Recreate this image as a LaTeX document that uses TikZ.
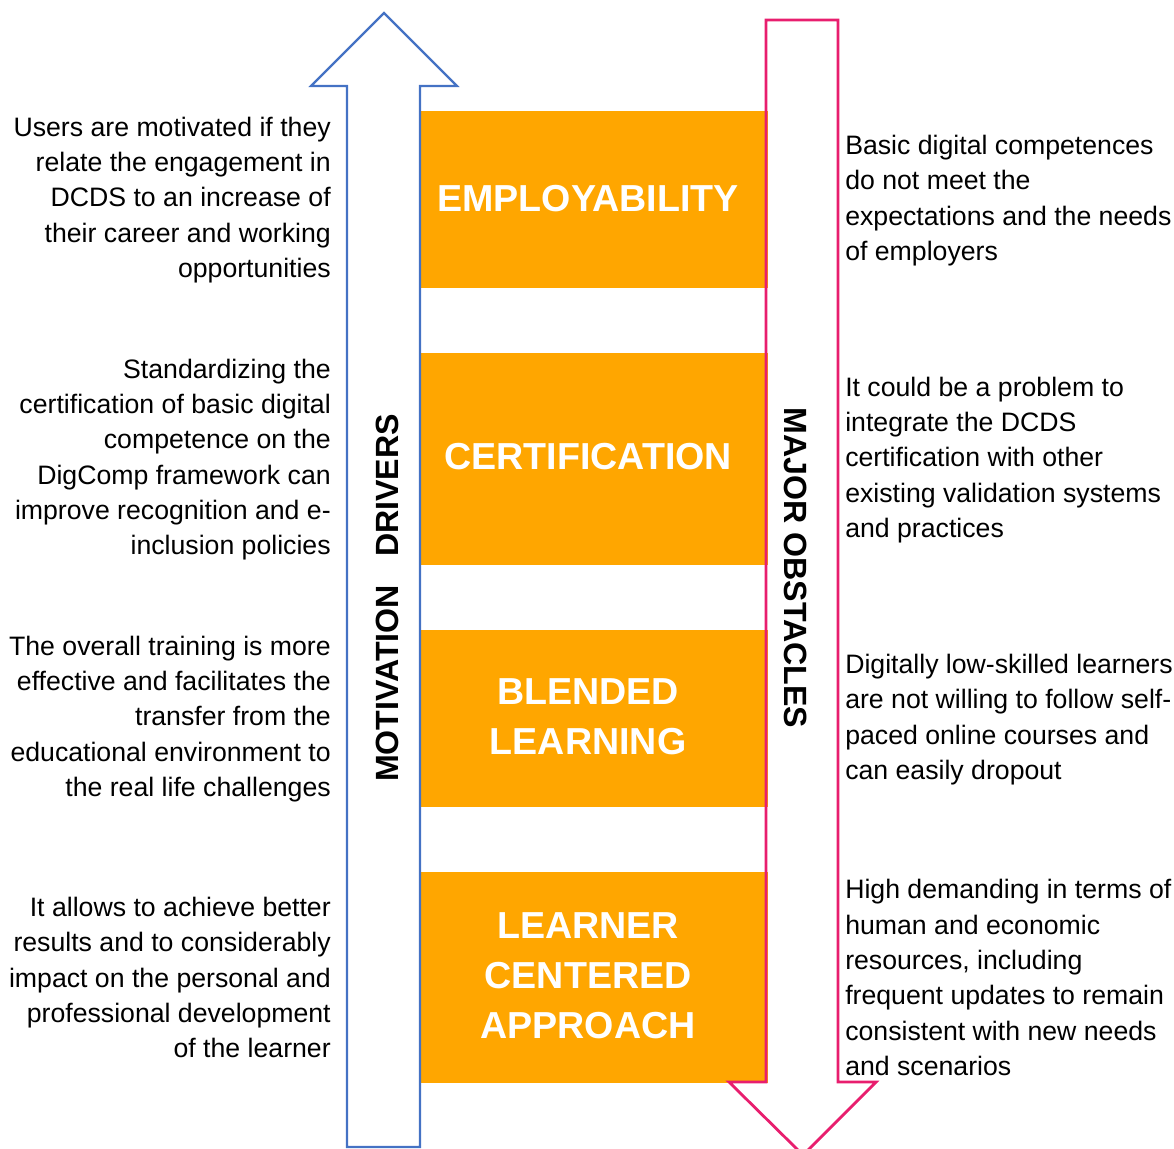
\documentclass[tikz,border=0pt]{standalone}
\usepackage{fontspec}
\setmainfont{Liberation Sans}
\definecolor{barorange}{RGB}{255,166,0}
\definecolor{upblue}{RGB}{68,114,196}
\definecolor{downpink}{RGB}{232,30,110}
\begin{document}
\begin{tikzpicture}[x=0.75pt,y=-0.75pt,
  stage/.style={fill=barorange, draw=none, inner sep=0pt, minimum width=260.25pt},
  stagetext/.style={inner sep=0pt, text=white, align=center,
    font=\bfseries\fontsize{28.2}{37.5}\selectfont},
  lefttext/.style={anchor=east, inner sep=0pt, align=right,
    font=\fontsize{20}{26.5}\selectfont},
  righttext/.style={anchor=west, inner sep=0pt, align=left,
    font=\fontsize{20}{26.5}\selectfont},
  sidelabel/.style={inner sep=0pt, font=\bfseries\fontsize{24.1}{28}\selectfont}]
\useasboundingbox (0,0) rectangle (1174,1149);

% orange stages
\node[stage, minimum height=132.75pt] (emp) at (594.5,199.5) {};
\node[stage, minimum height=159pt] (cert) at (594.5,459) {};
\node[stage, minimum height=132.75pt] (blend) at (594.5,718.5) {};
\node[stage, minimum height=158.25pt] (lca) at (594.5,977.5) {};

\node[stagetext] (empt) at ([xshift=-4.8pt,yshift=1pt]emp.center) {EMPLOYABILITY};
\node[stagetext] (certt) at ([xshift=-4.8pt,yshift=1.5pt]cert.center) {CERTIFICATION};
\node[stagetext] (blendt) at ([xshift=-4.8pt,yshift=1pt]blend.center) {BLENDED\\LEARNING};
\node[stagetext] (lcat) at ([xshift=-4.8pt,yshift=1pt]lca.center) {LEARNER\\CENTERED\\APPROACH};

% upward arrow: motivation drivers
\draw[upblue, line width=1.6pt, line join=miter]
  (347,1147) -- (347,86) -- (311,86) -- (384,13) -- (457,86) -- (420,86) -- (420,1147) -- cycle;
% downward arrow: major obstacles
\draw[downpink, line width=2.1pt, line join=miter]
  (766,20) -- (838,20) -- (838,1082) -- (876,1082) -- (803,1155) -- (729,1082) -- (766,1082) -- cycle;

\node[sidelabel, rotate=90] (mot) at (387.5,598) {MOTIVATION\hspace{21pt}DRIVERS};
\node[sidelabel, rotate=-90] (obs) at (796,568) {MAJOR OBSTACLES};

% drivers
\node[lefttext] (d1) at (331,200) {Users are motivated if they\\relate the engagement in\\DCDS to an increase of\\their career and working\\opportunities};
\node[lefttext] (d2) at (331,459.5) {Standardizing the\\certification of basic digital\\competence on the\\DigComp framework can\\improve recognition and e-\\inclusion policies};
\node[lefttext] (d3) at (331,719) {The overall training is more\\effective and facilitates the\\transfer from the\\educational environment to\\the real life challenges};
\node[lefttext] (d4) at (331,977.5) {It allows to achieve better\\results and to considerably\\impact on the personal and\\professional development\\of the learner};

% obstacles
\node[righttext] (o1) at (845,200.5) {Basic digital competences\\do not meet the\\expectations and the needs\\of employers};
\node[righttext] (o2) at (845,460) {It could be a problem to\\integrate the DCDS\\certification with other\\existing validation systems\\and practices};
\node[righttext] (o3) at (845,719.5) {Digitally low-skilled learners\\are not willing to follow self-\\paced online courses and\\can easily dropout};
\node[righttext] (o4) at (845,977.5) {High demanding in terms of\\human and economic\\resources, including\\frequent updates to remain\\consistent with new needs\\and scenarios};
\end{tikzpicture}
\end{document}
